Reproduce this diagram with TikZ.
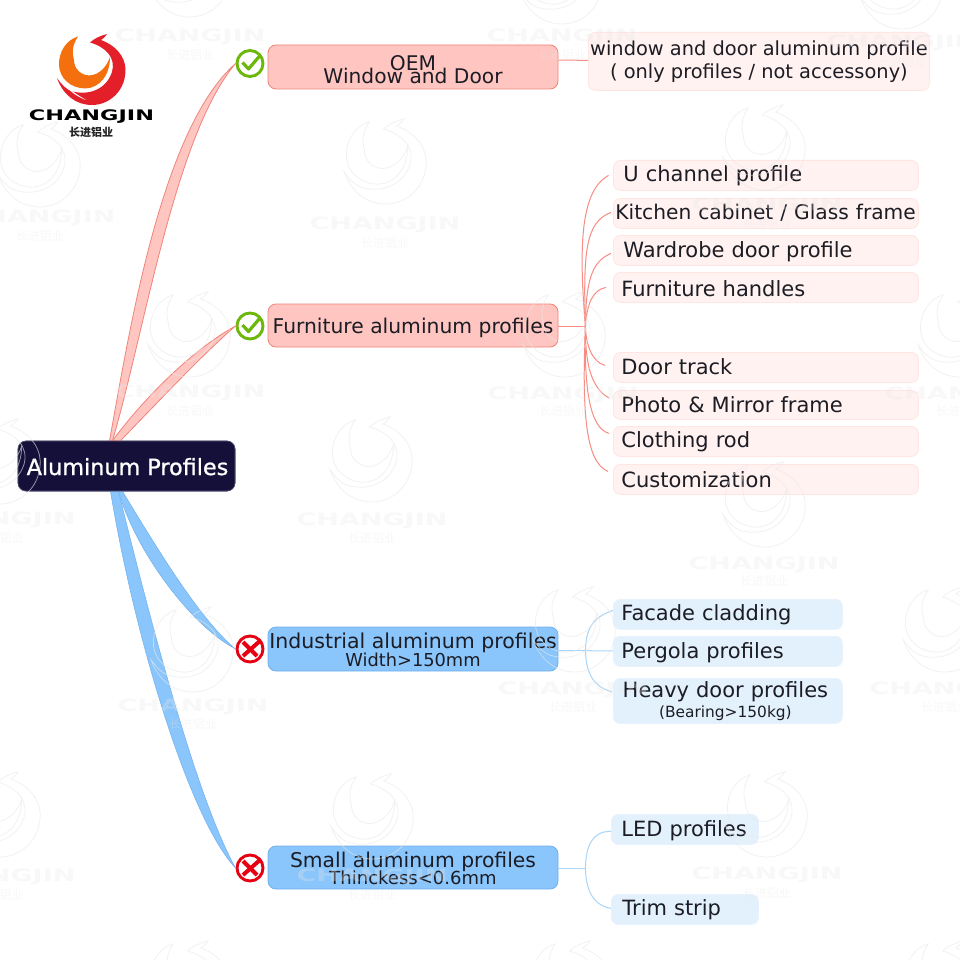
\documentclass[tikz,border=0pt]{standalone}
\usepackage{fontspec}
\usepackage{graphicx}
\setmainfont{DejaVu Sans}
\newfontfamily\cjkf{Noto Sans CJK SC}
\newfontfamily\rootf[FakeBold=1]{DejaVu Sans}
\usetikzlibrary{calc}
\lineskiplimit=-50pt
\definecolor{rfill}{HTML}{FFC5C1}
\definecolor{redge}{HTML}{F0847A}
\definecolor{rtw}{HTML}{F78C82}
\definecolor{rleaf}{HTML}{FFF2F0}
\definecolor{rleafe}{HTML}{FFE6E2}
\definecolor{bfill}{HTML}{8AC5FB}
\definecolor{bedge}{HTML}{6FB1EE}
\definecolor{bleaf}{HTML}{E3F1FD}
\definecolor{bleafe}{HTML}{E6F2FD}
\definecolor{bline}{HTML}{A8D6FA}
\definecolor{rootc}{HTML}{15103A}
\definecolor{okg}{HTML}{6CB80A}
\definecolor{nor}{HTML}{E60012}
\definecolor{txt}{HTML}{1C1C24}
\definecolor{lorange}{HTML}{F4700F}
\definecolor{lred}{HTML}{E3202A}
\definecolor{wmc}{HTML}{E9E9E9}
\tikzset{
  x=1pt,y=-1pt,
  branch/.style={rounded corners=8pt,line width=.8pt,inner sep=0pt,text=txt,align=center},
  rbranch/.style={branch,fill=rfill,draw=redge,minimum width=290pt},
  bbranch/.style={branch,fill=bfill,draw=bedge,minimum width=290pt},
  leafbox/.style={rounded corners=7pt,line width=.8pt,inner sep=0pt,text=txt,font=\fontsize{21}{23}\selectfont,anchor=north west},
  rleafbox/.style={leafbox,fill=rleaf,draw=rleafe},
  bleafbox/.style={leafbox,fill=bleaf,draw=bleafe},
  rtaper/.style={fill=rfill,draw=redge,line width=.8pt},
  btaper/.style={fill=bfill,draw=bedge,line width=.5pt},
  rtwig/.style={draw=rtw,line width=1pt},
  btwig/.style={draw=bline,line width=1pt},
  okring/.style={circle,draw=okg,fill=white,line width=2.9pt,minimum size=26pt,inner sep=0pt},
  noring/.style={circle,draw=nor,fill=white,line width=2.9pt,minimum size=26pt,inner sep=0pt},
  wml/.style={draw=wmc,opacity=.6,line width=.8pt},
  wmt/.style={text=wmc,opacity=.3,inner sep=0pt},
}
\newcommand{\lf}[8]{% name,style,x,y,w,h,inset,text
  \node[#2,minimum width=#5pt,minimum height=#6pt,text width=#5pt,align=left,text height=16pt,text depth=3pt] (#1) at (#3,#4) {\hspace*{#7pt}#8};}
\newcommand{\redpath}{(107,34) .. controls (104,38) and (103,39) .. (101,40)
  .. controls (115,45) and (125,56) .. (125.5,69)
  .. controls (126,90) and (110,105) .. (92,105)
  .. controls (76,105) and (63,95) .. (57,78)
  .. controls (62,85) and (66,89) .. (71,91)
  .. controls (88,96) and (106,90) .. (112,72)
  .. controls (116,58) and (106,47) .. (90,42.5)
  .. controls (95,38) and (100,36) .. (107,34) -- cycle}
\newcommand{\orangepath}{(78,36.5) .. controls (66,40) and (59,52) .. (59,64)
  .. controls (59,78) and (70,88) .. (85,88.5)
  .. controls (100,88) and (110,75) .. (110,57)
  .. controls (107,66) and (100,75) .. (89,75.5)
  .. controls (80,75) and (74,68) .. (74,60)
  .. controls (72,52) and (72,46) .. (78,36.5) -- cycle}
\begin{document}
\begin{tikzpicture}
\useasboundingbox (0,0) rectangle (960,960);
\fill[white] (0,0) rectangle (960,960);

% ---------- logo ----------
\fill[lred] \redpath;
\fill[lorange] \orangepath;
\fill[white] (64,84) .. controls (70,92) and (78,97) .. (86,100) .. controls (76,94) and (70,90) .. (64,84) -- cycle;
\node[inner sep=0pt] (logotext) at (91.5,116.5) {\scalebox{1.545}[1]{\fontsize{14.5}{15}\selectfont\bfseries CHANGJIN}};
\node[inner sep=0pt,text=black!85] (logocn) at (91,132) {\fontsize{11}{11}\selectfont\cjkf\bfseries 长进铝业};

% ---------- main node ----------
\node[fill=rootc,draw=rootc!70!white,rounded corners=8pt,line width=.6pt,inner sep=0pt,
      minimum width=217pt,minimum height=50pt] (root) at (126.5,466) {};

% ---------- branches ----------
\node[rbranch,minimum height=44pt,font=\fontsize{20.2}{13}\selectfont] (oem) at (413,67) {\rule{0pt}{21pt}OEM\\Window and Door};
\node[rbranch,minimum height=43pt,font=\fontsize{20.3}{22}\selectfont,text height=17pt,text depth=2pt] (furn) at (413,325.5) {Furniture aluminum profiles};
\node[bbranch,minimum height=44pt,font=\fontsize{20.5}{18}\selectfont] (ind) at (413,649) {\rule{0pt}{18pt}Industrial aluminum profiles\\\fontsize{17.8}{18}\selectfont Width>150mm};
\node[bbranch,minimum height=43pt,font=\fontsize{20.3}{17}\selectfont] (small) at (413,867.5) {\rule{0pt}{18pt}Small aluminum profiles\\\fontsize{18}{17}\selectfont Thinckess<0.6mm};

% ---------- status icons ----------
\node[okring] (c1) at (250,63.5) {};
\node[okring] (c2) at (250,326) {};
\node[noring] (c3) at (250,649) {};
\node[noring] (c4) at (250,868) {};
\foreach \n in {c1,c2}{
  \draw[okg,line width=3.2pt,line join=round] ($(\n)+(-7.5,-1)$) -- ($(\n)+(-1.5,5.5)$) -- ($(\n)+(10,-8)$);
}
\foreach \n in {c3,c4}{
  \draw[nor,line width=4pt] ($(\n)+(-7,-7)$) -- ($(\n)+(7,7)$);
  \draw[nor,line width=4pt] ($(\n)+(-7,7)$) -- ($(\n)+(11,-9)$);
}

% ---------- tapered main connectors ----------
\coordinate (ra) at ($(root.north)+(-17,0)$);
\coordinate (rb) at ($(root.north)+(-14,0)$);
\coordinate (rc) at ($(root.north)+(-6,0)$);
\coordinate (ba) at ($(root.south)+(-16,0)$);
\coordinate (bb) at ($(root.south)+(-8,0)$);
\coordinate (bc) at ($(root.south)+(-4,0)$);
\path[rtaper] (ra) .. controls (128,340) and (160,130) .. (c1.west)
  .. controls (175,135) and (145,330) .. (rb) -- cycle;
\path[rtaper] (rb) .. controls (150,390) and (200,345) .. (c2.west)
  .. controls (205,352) and (160,400) .. (rc) -- cycle;
\path[btaper] (ba) .. controls (135,640) and (190,820) .. (c4.west)
  .. controls (198,800) and (155,640) .. (bb) -- cycle;
\path[btaper] (bb) .. controls (135,550) and (190,625) .. (c3.west)
  .. controls (200,620) and (155,545) .. (bc) -- cycle;
\node[fill=rootc,draw=rootc!70!white,rounded corners=8pt,line width=.6pt,text=white,inner sep=0pt,
      minimum width=217pt,minimum height=50pt,font=\rootf\fontsize{22.3}{24}\selectfont,text height=20pt,text depth=2pt] (root2) at (root) {\hspace*{2pt}Aluminum Profiles};

% ---------- leaves ----------
\node[rleafbox,align=center,minimum width=341pt,minimum height=58pt,font=\fontsize{19.4}{23}\selectfont] (w) at (588,32) {window and door aluminum profile\\( only profiles / not accessony)};
\lf{l1}{rleafbox}{613}{160}{305}{30}{10}{U channel profile}
\lf{l2}{rleafbox}{613}{198}{305}{30}{2}{\fontsize{20.2}{22}\selectfont Kitchen cabinet / Glass frame}
\lf{l3}{rleafbox}{613}{235}{305}{30}{10}{\raisebox{-1pt}{Wardrobe door profile}}
\lf{l4}{rleafbox}{613}{272}{305}{30}{8}{\raisebox{-3pt}{Furniture handles}}
\lf{l5}{rleafbox}{613}{352}{305}{30}{8}{\raisebox{-1pt}{Door track}}
\lf{l6}{rleafbox}{613}{390}{305}{29}{8}{\raisebox{-1pt}{Photo \& Mirror frame}}
\lf{l7}{rleafbox}{613}{426}{305}{30}{8}{Clothing rod}
\lf{l8}{rleafbox}{613}{464}{305}{30}{8}{\raisebox{-2pt}{Customization}}
\lf{i1}{bleafbox}{613}{599}{229}{30}{8}{Facade cladding}
\lf{i2}{bleafbox}{613}{636}{229}{30}{8}{\raisebox{-1pt}{Pergola profiles}}
\node[bleafbox,minimum width=229pt,minimum height=45pt,align=center,text width=229pt] (i3) at (613,678) {\hspace*{-5pt}\fontsize{21}{18}\selectfont Heavy door profiles\\[-3pt]\hspace*{-5pt}\fontsize{15.4}{15}\selectfont (Bearing>150kg)};
\lf{s1}{bleafbox}{611}{814}{147}{30}{10}{\raisebox{-1pt}{LED profiles}}
\lf{s2}{bleafbox}{611}{894}{147}{30}{11}{Trim strip}

% ---------- twigs ----------
\draw[rtwig] ($(oem.east)+(0,-7)$) -- ($(w.west)+(0,-1)$);
\coordinate (fh) at ($(furn.east)+(27,0.5)$);
\draw[rtwig] ($(furn.east)+(0,0.5)$) -- (fh);
\draw[rtwig] (fh) .. controls (578,240) and (582,190) .. ($(l1.west)+(-4.5,0)$);
\draw[rtwig] (fh) .. controls (583,250) and (586,222) .. ($(l2.west)+(-2,-1)$);
\draw[rtwig] (fh) .. controls (586,285) and (590,262) .. ($(l3.west)+(-2,3)$);
\draw[rtwig] (fh) .. controls (587,305) and (592,290) .. ($(l4.west)+(-7,0)$);
\draw[rtwig] (fh) .. controls (586,345) and (592,362) .. ($(l5.west)+(-8,-2)$);
\draw[rtwig] (fh) .. controls (585,360) and (590,388) .. ($(l6.west)+(-4,-7)$);
\draw[rtwig] (fh) .. controls (584,390) and (590,428) .. ($(l7.west)+(-4,-8)$);
\draw[rtwig] (fh) .. controls (582,410) and (585,462) .. ($(l8.west)+(-5,-8)$);
\coordinate (ih) at ($(ind.east)+(27,1.5)$);
\draw[btwig] ($(ind.east)+(0,1.5)$) -- ($(i2.west)+(0,-0.5)$);
\draw[btwig] (ih) .. controls (586,632) and (590,618) .. ($(i1.west)+(0,-4)$);
\draw[btwig] (ih) .. controls (586,668) and (590,686) .. ($(i3.west)+(-1,-9)$);
\coordinate (sh) at ($(small.east)+(27,0.5)$);
\draw[btwig] ($(small.east)+(0,0.5)$) -- (sh);
\draw[btwig] (sh) .. controls (586,846) and (592,831) .. ($(s1.west)+(0,2)$);
\draw[btwig] (sh) .. controls (586,889) and (592,905) .. ($(s2.west)+(0,-1)$);

% ---------- watermarks: emblem x/y, text x/y, chinese y ----------
\foreach \x/\y/\tx/\ty/\cy [count=\i] in {
  190/-25/190/37/55, 562/-18/562/37/55, 902/-13/902/43/62,
  40/165/40/218/236, 386/162/385/225/243, 765/148/767/206/225,
  190/335/190/393/411, 565/335/563/395/411, 960/335/960/395/411,
  372/460/372/521/538, 0/462/0/520/538, 765/505/764/565/581,
  575/630/573/690/707, 945/630/945/690/707, 193/650/193/707/724,
  373/817/372/877/895, 0/815/0/877/895, 767/815/767/875/893,
  190/984/190/1040/1058, 572/984/572/1040/1058, 945/984/945/1040/1058}{
  \begin{scope}[shift={(\x,\y)},scale=1.2,shift={(-92,-70)}]
    \draw[wml] \redpath;
    \draw[wml] \orangepath;
  \end{scope}
  \node[wmt,font=\fontsize{17}{17}\selectfont\bfseries] (wma\i) at (\tx,\ty) {\scalebox{1.59}[1]{CHANGJIN}};
  \node[wmt,font=\fontsize{12}{12}\selectfont\cjkf] (wmb\i) at (\tx,\cy) {长进铝业};
}
\end{tikzpicture}
\end{document}
